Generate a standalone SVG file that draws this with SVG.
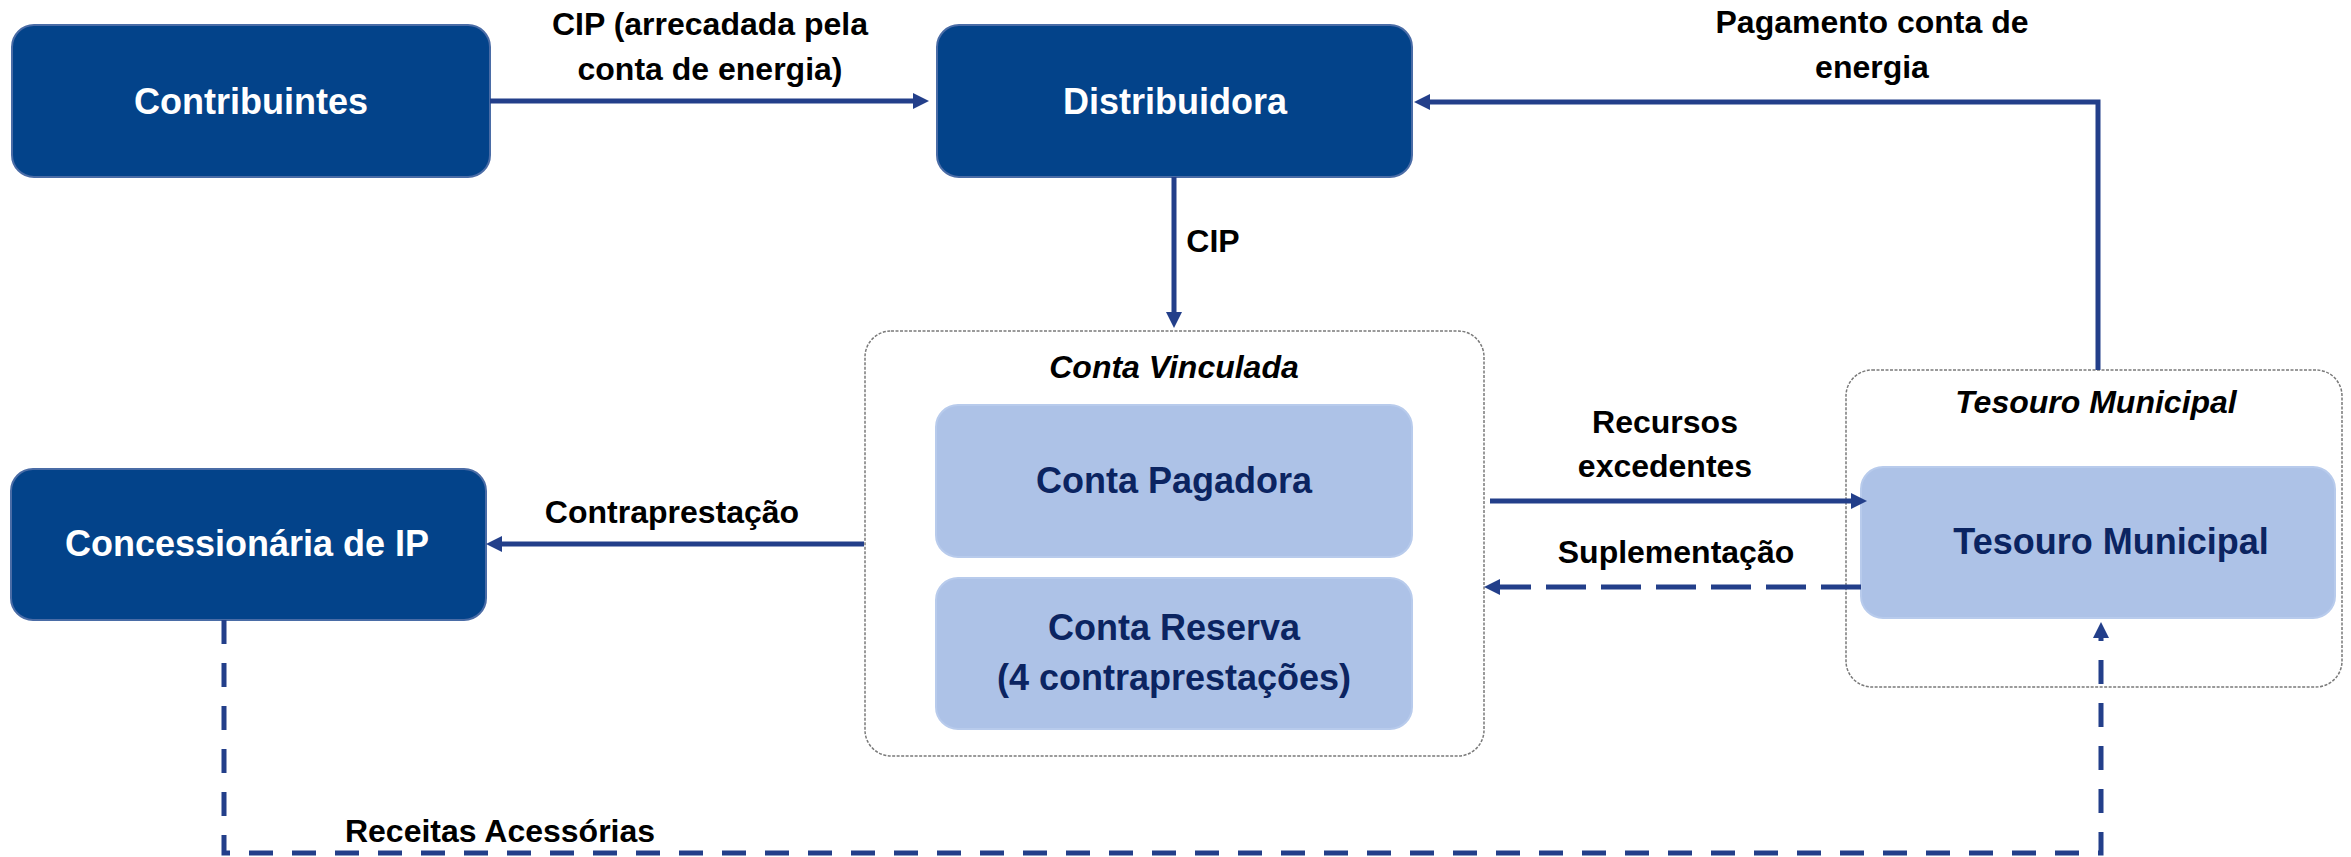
<svg xmlns="http://www.w3.org/2000/svg" width="2351" height="857" viewBox="0 0 2351 857">
<style>
.dark{fill:#03438a;stroke:#4a6ca6;stroke-width:2}
.light{fill:#adc2e7;stroke:#b8cbec;stroke-width:2}
.cont{fill:#ffffff;stroke:#7a7a7a;stroke-width:1.5;stroke-dasharray:3 1.5}
.t{font-family:"Liberation Sans",Arial,sans-serif;font-weight:bold;text-anchor:middle}
.wt{fill:#ffffff;font-size:36px}
.nt{fill:#0b2461;font-size:36px}
.lb{fill:#000000;font-size:32px}
.it{fill:#000000;font-size:32px;font-style:italic}
.c{fill:none;stroke:#233f8a;stroke-width:5}
.d1{stroke-dasharray:40 15}
.d2{stroke-dasharray:24 19}
</style>
<defs>
<marker id="ah" markerUnits="userSpaceOnUse" markerWidth="16" markerHeight="17" refX="0" refY="8" orient="auto" overflow="visible">
<path d="M0,0 L16,8 L0,16 z" fill="#233f8a"/>
</marker>
</defs>

<g id="contribuintes">
<rect class="dark" x="12" y="25" width="478" height="152" rx="22"/>
<text class="t wt" x="251" y="114">Contribuintes</text>
</g>
<g id="distribuidora">
<rect class="dark" x="937" y="25" width="475" height="152" rx="22"/>
<text class="t wt" x="1175" y="114">Distribuidora</text>
</g>
<g id="concessionaria">
<rect class="dark" x="11" y="469" width="475" height="151" rx="22"/>
<text class="t wt" x="247" y="556">Concessionária de IP</text>
</g>
<g id="conta-vinculada">
<rect class="cont" x="865" y="331" width="619" height="425" rx="26"/>
<text class="t it" x="1174" y="378">Conta Vinculada</text>
</g>
<g id="conta-pagadora">
<rect class="light" x="936" y="405" width="476" height="152" rx="22"/>
<text class="t nt" x="1174" y="493">Conta Pagadora</text>
</g>
<g id="conta-reserva">
<rect class="light" x="936" y="578" width="476" height="151" rx="22"/>
<text class="t nt" x="1174" y="640">Conta Reserva</text>
<text class="t nt" x="1174" y="690">(4 contraprestações)</text>
</g>
<g id="tesouro-container">
<rect class="cont" x="1846" y="370" width="496" height="317" rx="26"/>
<text class="t it" x="2096" y="413">Tesouro Municipal</text>
</g>
<g id="tesouro-municipal">
<rect class="light" x="1861" y="467" width="474" height="151" rx="22"/>
<text class="t nt" x="2111" y="554">Tesouro Municipal</text>
</g>

<g id="connectors">
<path class="c" d="M490,101 H913" marker-end="url(#ah)"/>
<path class="c" d="M2098,370 V102 H1430" marker-end="url(#ah)"/>
<path class="c" d="M1174,177 V312" marker-end="url(#ah)"/>
<path class="c" d="M864,544 H502" marker-end="url(#ah)"/>
<path class="c" d="M1490,501 H1851" marker-end="url(#ah)"/>
<path class="c d1" d="M1861,587 H1500" marker-end="url(#ah)"/>
<path class="c d2" d="M224,620 V853 H2101 V638" marker-end="url(#ah)"/>
</g>

<g id="labels">
<text class="t lb" x="710" y="35">CIP (arrecadada pela</text>
<text class="t lb" x="710" y="80">conta de energia)</text>
<text class="t lb" x="1872" y="33">Pagamento conta de</text>
<text class="t lb" x="1872" y="78">energia</text>
<text class="t lb" x="1213" y="252">CIP</text>
<text class="t lb" x="672" y="523">Contraprestação</text>
<text class="t lb" x="1665" y="433">Recursos</text>
<text class="t lb" x="1665" y="477">excedentes</text>
<text class="t lb" x="1676" y="563">Suplementação</text>
<text class="t lb" x="500" y="842">Receitas Acessórias</text>
</g>
</svg>
